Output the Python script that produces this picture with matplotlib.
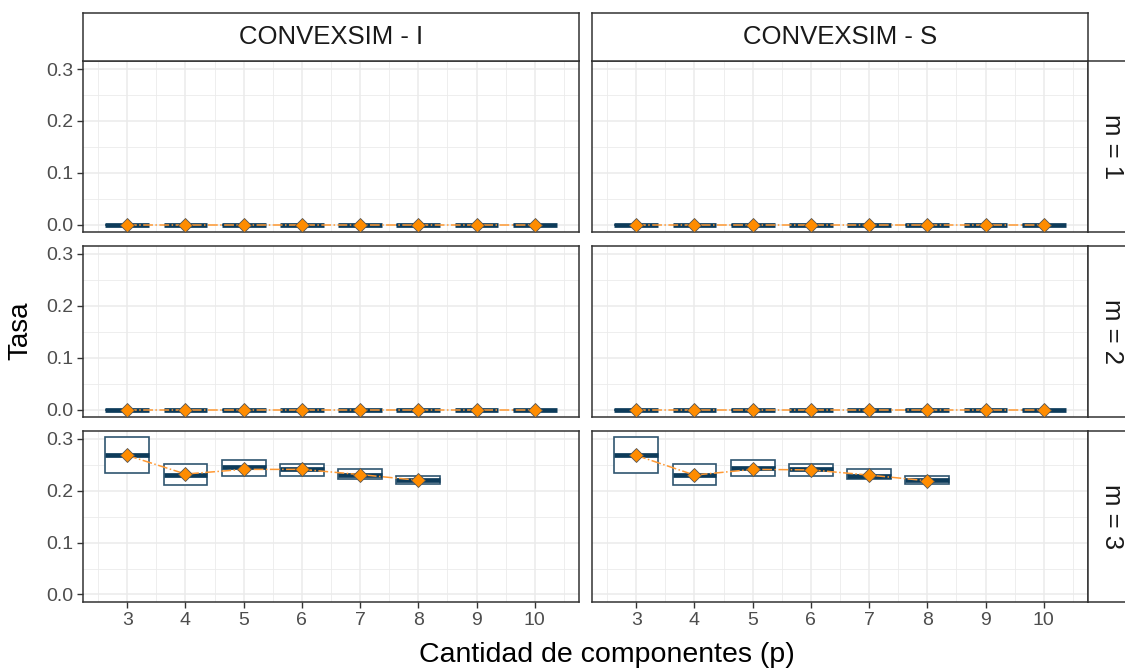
import numpy as np
import matplotlib
matplotlib.use('Agg')
import matplotlib.pyplot as plt
from matplotlib.ticker import MultipleLocator

plt.rcParams['font.family'] = ['Liberation Sans', 'DejaVu Sans']

# Data
methods = ['CONVEXSIM - I', 'CONVEXSIM - S']
m_labels = ['m = 1', 'm = 2', 'm = 3']
p_all = [3, 4, 5, 6, 7, 8, 9, 10]
p_m3 = [3, 4, 5, 6, 7, 8]

# m = 1 and m = 2: everything at zero
zero_q1 = [0.0] * 8
zero_med = [0.0] * 8
zero_q3 = [0.0] * 8
zero_mean = [0.0] * 8

# m = 3, CONVEXSIM - I
m3_I_q1 = [0.234, 0.210, 0.228, 0.228, 0.223, 0.212]
m3_I_med = [0.268, 0.231, 0.245, 0.242, 0.230, 0.220]
m3_I_q3 = [0.304, 0.252, 0.259, 0.252, 0.241, 0.229]
m3_I_mean = [0.268, 0.232, 0.241, 0.241, 0.231, 0.220]

# m = 3, CONVEXSIM - S
m3_S_q1 = [0.234, 0.210, 0.228, 0.228, 0.223, 0.212]
m3_S_med = [0.268, 0.231, 0.244, 0.242, 0.229, 0.220]
m3_S_q3 = [0.304, 0.252, 0.259, 0.252, 0.241, 0.229]
m3_S_mean = [0.268, 0.230, 0.241, 0.240, 0.230, 0.219]

panels = {
    (0, 0): (p_all, zero_q1, zero_med, zero_q3, zero_mean),
    (0, 1): (p_all, zero_q1, zero_med, zero_q3, zero_mean),
    (1, 0): (p_all, zero_q1, zero_med, zero_q3, zero_mean),
    (1, 1): (p_all, zero_q1, zero_med, zero_q3, zero_mean),
    (2, 0): (p_m3, m3_I_q1, m3_I_med, m3_I_q3, m3_I_mean),
    (2, 1): (p_m3, m3_S_q1, m3_S_med, m3_S_q3, m3_S_mean),
}

W, H = 1125, 669
fig = plt.figure(figsize=(W / 100, H / 100), dpi=100)

def rect(x0, y0, x1, y1):
    return [x0 / W, 1 - y1 / H, (x1 - x0) / W, (y1 - y0) / H]

cols = [(83, 579), (592, 1088)]
rows = [(61, 232.3), (245.8, 417.2), (430.7, 602)]
border = '#333333'
box_col = '#2f5570'
med_col = '#0d3b5a'

for (r, c), (p, q1, med, q3, mean) in panels.items():
    x0, x1 = cols[c]
    y0, y1 = rows[r]
    ax = fig.add_axes(rect(x0, y0, x1, y1))
    stats = [dict(q1=a, med=b, q3=d, whislo=a, whishi=d, fliers=[])
             for a, b, d in zip(q1, med, q3)]
    ax.bxp(stats, positions=p, widths=0.75, patch_artist=True,
           showfliers=False, showcaps=False, manage_ticks=False,
           boxprops=dict(facecolor='white', edgecolor=box_col, linewidth=1.2),
           medianprops=dict(color=med_col, linewidth=3.4, solid_capstyle='butt'),
           whiskerprops=dict(color=box_col, linewidth=1.0), zorder=3)
    ax.plot(p, mean, linestyle='-.', color='#ff9933', lw=1.1, zorder=4)
    ax.plot(p, mean, linestyle='none', marker='D', ms=7.5, mfc='#ff8c00',
            mec='#555555', mew=0.6, zorder=5)

    ax.set_xlim(2.24, 10.76)
    ax.set_ylim(-0.0145, 0.3155)
    ax.xaxis.set_major_locator(MultipleLocator(1))
    ax.xaxis.set_minor_locator(MultipleLocator(0.5))
    ax.yaxis.set_major_locator(MultipleLocator(0.1))
    ax.yaxis.set_minor_locator(MultipleLocator(0.05))
    ax.grid(True, which='major', color='#ebebeb', lw=1.1, zorder=0)
    ax.grid(True, which='minor', color='#ebebeb', lw=0.6, zorder=0)
    ax.set_axisbelow(True)
    ax.tick_params(which='minor', length=0)
    ax.tick_params(which='major', length=4, width=1, color='#333333',
                   labelcolor='#4d4d4d', labelsize=14, pad=3)
    for s in ax.spines.values():
        s.set_color(border)
        s.set_linewidth(1.1)
    if c == 0:
        ax.set_yticks([0.0, 0.1, 0.2, 0.3])
        ax.set_yticklabels(['0.0', '0.1', '0.2', '0.3'])
    else:
        ax.tick_params(axis='y', which='both', left=False, labelleft=False)
    if r == 2:
        ax.set_xticks(p_all)
        ax.set_xticklabels([str(v) for v in p_all])
    else:
        ax.tick_params(axis='x', which='both', bottom=False, labelbottom=False)

# top strips
for c, name in enumerate(methods):
    x0, x1 = cols[c]
    sax = fig.add_axes(rect(x0, 13, x1, 61))
    sax.set_xticks([])
    sax.set_yticks([])
    for s in sax.spines.values():
        s.set_color(border)
        s.set_linewidth(1.1)
    sax.text(0.5, 0.5, name, ha='center', va='center', fontsize=18.5,
             color='#1a1a1a', transform=sax.transAxes)

# right strips
for r, lab in enumerate(m_labels):
    y0, y1 = rows[r]
    sax = fig.add_axes(rect(1088, y0, 1136, y1))
    sax.set_xticks([])
    sax.set_yticks([])
    for s in sax.spines.values():
        s.set_color(border)
        s.set_linewidth(1.1)
    sax.text(0.5, 0.5, lab, ha='center', va='center', fontsize=18.5,
             rotation=-90, color='#1a1a1a', transform=sax.transAxes)

fig.text(20 / W, 1 - 331 / H, 'Tasa', rotation=90, ha='center', va='center',
         fontsize=20, color='black')
fig.text(607 / W, 1 - 655 / H, 'Cantidad de componentes (p)', ha='center',
         va='center', fontsize=20.5, color='black')

fig.savefig('out.png', dpi=100)
